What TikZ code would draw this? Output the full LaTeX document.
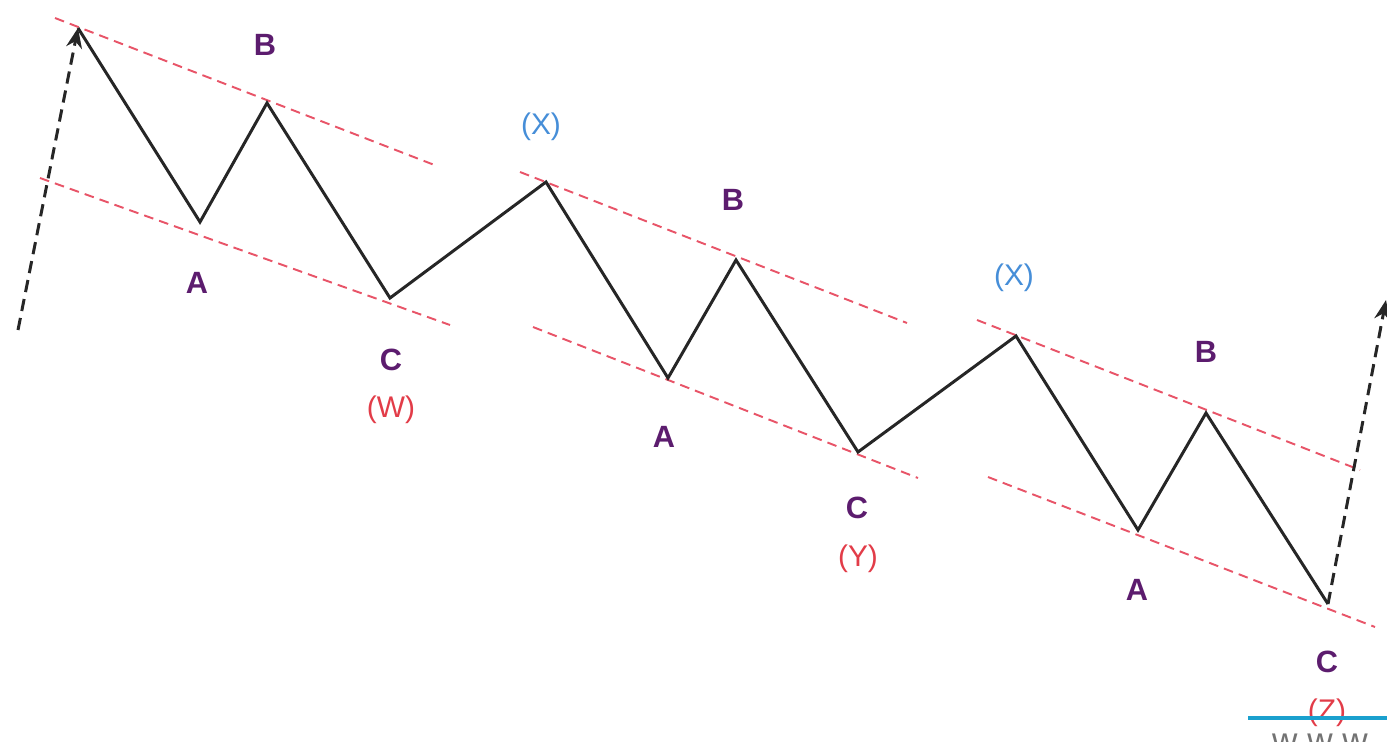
\documentclass[tikz,border=0pt]{standalone}
\usepackage{fontspec}
\setmainfont{Liberation Sans}
\usepackage{tikz}
\usetikzlibrary{arrows.meta}
\definecolor{wavepurple}{RGB}{92,28,110}
\definecolor{chanred}{RGB}{232,84,104}
\definecolor{lblred}{RGB}{226,60,72}
\definecolor{lblblue}{RGB}{70,142,216}
\definecolor{markblue}{RGB}{26,160,206}
\tikzset{
  wave/.style={line width=1.7pt,draw=black!85,line join=miter},
  chan/.style={line width=1.1pt,draw=chanred,dash pattern=on 5.5pt off 3.5pt},
  trend/.style={line width=1.7pt,draw=black!85,dash pattern=on 7pt off 4pt,
    -{Stealth[length=4mm,width=3.2mm]}},
  ltr/.style={font=\fontsize{17.5}{20}\selectfont\bfseries,text=wavepurple,inner sep=0pt},
  wxy/.style={font=\fontsize{17}{20}\selectfont,inner sep=0pt},
}
\begin{document}
\begin{tikzpicture}[x=0.02cm,y=-0.02cm]
  \useasboundingbox (0,0) rectangle (1387,741);

  % wave points
  \coordinate (s0) at (18,330);
  \coordinate (p0) at (78,28);
  \coordinate (a1) at (200,222);
  \coordinate (b1) at (267,103);
  \coordinate (c1) at (390,298);
  \coordinate (x1) at (546,182);
  \coordinate (a2) at (668,378);
  \coordinate (b2) at (736,260);
  \coordinate (c2) at (858,452);
  \coordinate (x2) at (1016,336);
  \coordinate (a3) at (1138,530);
  \coordinate (b3) at (1206,413);
  \coordinate (c3) at (1328,604);
  \coordinate (e0) at (1386,300);

  % channels
  \draw[chan] (55,18) -- (437,166);
  \draw[chan] (40,178) -- (450,325);
  \draw[chan] (520,172) -- (907,323);
  \draw[chan] (533,327) -- (918,478);
  \draw[chan] (977,320) -- (1360,470);
  \draw[chan] (988,477) -- (1375,627);

  % trend arrows
  \draw[trend] (s0) -- (p0);
  \draw[trend] (c3) -- (e0);

  % the wave
  \draw[wave] (p0) -- (a1) -- (b1) -- (c1) -- (x1) -- (a2) -- (b2) -- (c2)
    -- (x2) -- (a3) -- (b3) -- (c3);

  % labels
  \node[ltr] (lb1) at (265,45) {B};
  \node[ltr] (la1) at (197,283) {A};
  \node[ltr] (lc1) at (391,360) {C};
  \node[wxy,text=lblred] (lw) at (391,410) {(W)};
  \node[wxy,text=lblblue] (lx1) at (541,127) {(X)};
  \node[ltr] (lb2) at (733,200) {B};
  \node[ltr] (la2) at (664,437) {A};
  \node[ltr] (lc2) at (857,508) {C};
  \node[wxy,text=lblred] (ly) at (858,559) {(Y)};
  \node[wxy,text=lblblue] (lx2) at (1014,278) {(X)};
  \node[ltr] (lb3) at (1206,352) {B};
  \node[ltr] (la3) at (1137,590) {A};
  \node[ltr] (lc3) at (1327,662) {C};
  \node[wxy,text=lblred] (lz) at (1327,713) {(Z)};

  % corner mark
  \draw[markblue,line width=2.4pt] (1248,718) -- (1387,718);
  \node[font=\fontsize{20}{22}\selectfont,text=black!55,anchor=north] (www) at (1320,728) {w w w};
\end{tikzpicture}
\end{document}
